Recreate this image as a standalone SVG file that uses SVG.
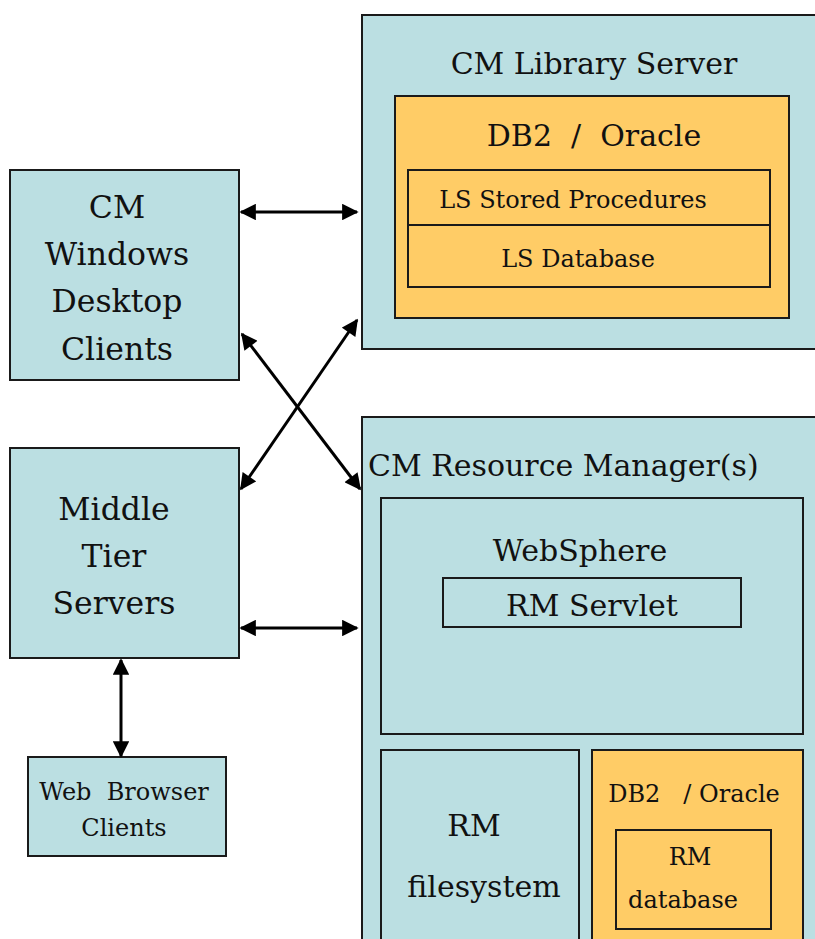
<svg xmlns="http://www.w3.org/2000/svg" width="815" height="939" viewBox="0 0 815 939">
<style>
.b{fill:#BBDFE2;stroke:#1a1a1a;stroke-width:2}
.o{fill:#FFCC66;stroke:#1a1a1a;stroke-width:2}
.t{font-family:'DejaVu Serif','Liberation Serif',serif;fill:#111;text-anchor:middle}
.L{font-size:30px}
.N{font-size:31.5px}
.M{font-size:24px}
.c{stroke:#000;stroke-width:3;fill:none;marker-start:url(#a);marker-end:url(#a)}
</style>
<defs>
<marker id="a" viewBox="0 0 10 10" refX="9" refY="5" markerWidth="6" markerHeight="5.5" markerUnits="strokeWidth" orient="auto-start-reverse">
<path d="M0,0 L10,5 L0,10 z" fill="#000"/>
</marker>
</defs>
<rect width="815" height="939" fill="#fff"/>
<g class="t">
<g id="library-server">
<rect class="b" x="362" y="15" width="470" height="334"/>
<text class="L" x="594" y="74">CM Library Server</text>
<rect class="o" x="395" y="96" width="394" height="222"/>
<text class="L" x="594" y="146" xml:space="preserve">DB2  /  Oracle</text>
<rect class="o" x="408" y="170" width="362" height="55"/>
<text class="M" x="573" y="208">LS Stored Procedures</text>
<rect class="o" x="408" y="225" width="362" height="62"/>
<text class="M" x="578" y="267">LS Database</text>
</g>
<g id="windows-clients">
<rect class="b" x="10" y="170" width="229" height="210"/>
<text class="N" x="117" y="218">CM</text>
<text class="N" x="117" y="265">Windows</text>
<text class="N" x="117" y="312">Desktop</text>
<text class="N" x="117" y="360">Clients</text>
</g>
<g id="middle-tier">
<rect class="b" x="10" y="448" width="229" height="210"/>
<text class="N" x="114" y="520">Middle</text>
<text class="N" x="114" y="567">Tier</text>
<text class="N" x="114" y="614">Servers</text>
</g>
<g id="web-browser">
<rect class="b" x="28" y="757" width="198" height="99"/>
<text class="M" x="124" y="800" xml:space="preserve">Web  Browser</text>
<text class="M" x="124" y="836">Clients</text>
</g>
<g id="resource-manager">
<rect class="b" x="362" y="417" width="470" height="540"/>
<text class="L" x="368" y="476" style="text-anchor:start">CM Resource Manager(s)</text>
<rect class="b" x="381" y="498" width="422" height="236"/>
<text class="L" x="580" y="561">WebSphere</text>
<rect class="b" x="443" y="578" width="298" height="49"/>
<text class="L" x="592" y="616">RM Servlet</text>
<rect class="b" x="381" y="750" width="198" height="210"/>
<text class="L" x="474" y="836">RM</text>
<text class="L" x="484" y="897">filesystem</text>
<rect class="o" x="592" y="750" width="211" height="210"/>
<text class="M" x="694" y="802" xml:space="preserve">DB2   / Oracle</text>
<rect class="o" x="616" y="830" width="155" height="99"/>
<text class="M" x="690" y="865">RM</text>
<text class="M" x="683" y="908">database</text>
</g>
</g>
<g id="connectors">
<line class="c" x1="241" y1="212" x2="357" y2="212"/>
<line class="c" x1="242" y1="334" x2="360" y2="489"/>
<line class="c" x1="241" y1="489" x2="357" y2="320"/>
<line class="c" x1="241" y1="628" x2="357" y2="628"/>
<line class="c" x1="121" y1="660" x2="121" y2="756"/>
</g>
</svg>
